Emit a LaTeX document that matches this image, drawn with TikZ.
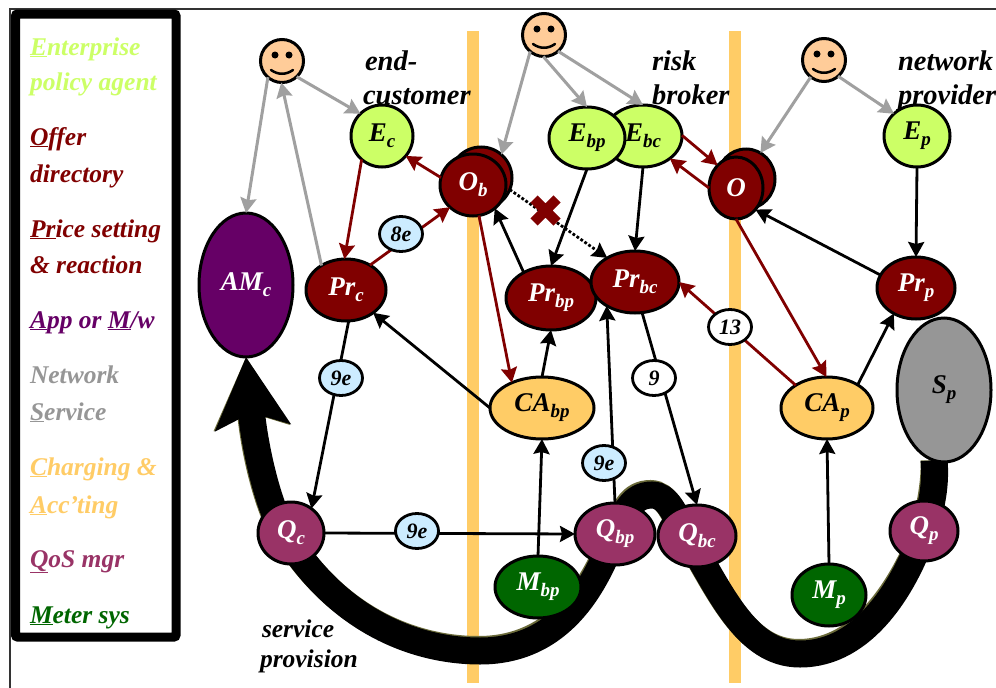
\documentclass[tikz,border=0pt]{standalone}
\usepackage{fontspec}
\setmainfont{Liberation Serif}
\usetikzlibrary{arrows.meta,shapes.geometric}
\definecolor{ecol}{HTML}{CCFF66}
\definecolor{red8}{HTML}{800000}
\definecolor{purp}{HTML}{660066}
\definecolor{gray9}{HTML}{969696}
\definecolor{lgray}{HTML}{A0A0A0}
\definecolor{oran}{HTML}{FFCC66}
\definecolor{qcol}{HTML}{993366}
\definecolor{mcol}{HTML}{006600}
\definecolor{lblue}{HTML}{CCECFF}
\definecolor{skin}{HTML}{FFCC99}
\definecolor{olive}{HTML}{6B6B3A}
\pgfdeclarelayer{bg}
\pgfsetlayers{bg,main}
\newcommand\ssub[1]{\raisebox{-6pt}{\fontsize{19}{19}\selectfont #1}}
\newcommand\fatroute{(Sp.262) .. controls (936,485) and (932,505) .. (Qp.center)
  .. controls (905,585) and (865,654) .. (800,654)
  .. controls (745,654) and (720,590) .. (685,533)
  .. controls (675,515) and (668,495) .. (652,495)
  .. controls (632,495) and (625,512) .. (Qbp.center)
  .. controls (600,570) and (570,651) .. (480,651)
  .. controls (420,651) and (340,625) .. (284,533)
  .. controls (268,505) and (255,450) .. (AMc.south)}
\newcommand\smileyface[1]{%
  \fill ([shift={(-7,-6)}]#1.center) circle (3.5pt);
  \fill ([shift={(7,-6)}]#1.center) circle (3.5pt);
  \draw[line width=2.5pt,line cap=round] ([shift={(-11,9)}]#1.center) .. controls ([shift={(-4,14)}]#1.center) and ([shift={(4,14)}]#1.center) .. ([shift={(11,9)}]#1.center);
}
\tikzset{
  txt/.style={font=\fontsize{25.5}{25.5}\selectfont\bfseries\itshape,anchor=base west,inner sep=0pt,outer sep=0pt},
  captxt/.style={txt,font=\fontsize{28.5}{28.5}\selectfont\bfseries\itshape},
  ell/.style 2 args={ellipse,draw=black,line width=3pt,inner sep=0pt,outer sep=0pt,minimum width=#1pt,minimum height=#2pt,font=\fontsize{27}{27}\selectfont\bfseries\itshape},
  lbl/.style={ellipse,draw=black,line width=2.8pt,inner sep=0pt,outer sep=0pt,minimum width=43pt,minimum height=35pt,font=\fontsize{22}{22}\selectfont\bfseries\itshape},
  face/.style={circle,draw=black,fill=skin,line width=3pt,inner sep=0pt,outer sep=0pt,minimum size=43pt},
  conn/.style={line width=2.8pt,-{Stealth[length=15pt,width=16pt,inset=2pt]}},
  gconn/.style={conn,draw=lgray,line width=3pt},
  rconn/.style={conn,draw=red8},
  fat/.style={line width=27pt,-{Stealth[length=70pt,width=74pt,inset=14pt]}}
}
\begin{document}
\begin{tikzpicture}[x=1pt,y=-1pt]
\useasboundingbox (0,0) rectangle (996,688);
\begin{pgfonlayer}{bg}
\fill[white] (0,0) rectangle (996,688);
\draw[line width=1.5pt,black!80] (10,688) -- (10,9) -- (996,9);
\fill[oran] (467,31) rectangle (479,683);
\fill[oran] (729,31) rectangle (741,683);
\end{pgfonlayer}
\draw[line width=9pt,rounded corners=2pt,fill=white] (15.5,14) rectangle (176,637);
% legend
\node[txt,ecol] (l1) at (30,55) {\underline{E}nterprise};
\node[txt,ecol] (l2) at (30,90) {policy agent};
\node[txt,red8] (l3) at (30,145) {\underline{O}ffer};
\node[txt,red8] (l4) at (30,182) {directory};
\node[txt,red8] (l5) at (30,237) {\underline{Pr}ice setting};
\node[txt,red8] (l6) at (30,273) {\& reaction};
\node[txt,purp] (l7) at (30,328) {\underline{A}pp or \underline{M}/w};
\node[txt,gray9] (l8) at (30,383) {Network};
\node[txt,gray9] (l9) at (30,420) {\underline{S}ervice};
\node[txt,oran] (l10) at (30,475) {\underline{C}harging \&};
\node[txt,oran] (l11) at (30,513) {\underline{A}cc’ting};
\node[txt,qcol] (l12) at (30,567) {\underline{Q}oS mgr};
\node[txt,mcol] (l13) at (30,623) {\underline{M}eter sys};
% role captions
\node[captxt] (t1) at (365,70) {end-};
\node[captxt] (t2) at (363,104) {customer};
\node[captxt] (t3) at (652,70) {risk};
\node[captxt] (t4) at (652,104) {broker};
\node[captxt] (t5) at (898,70) {network};
\node[captxt] (t6) at (898,104) {provider};
\node[txt] (t7) at (262,637) {service};
\node[txt] (t8) at (260,667) {provision};
% faces
\node[face] (f1) at (282,61) {};
\node[face] (f2) at (544,35) {};
\node[face] (f3) at (824,60) {};
\smileyface{f1}\smileyface{f2}\smileyface{f3}
% nodes
\node[ell={62}{62},fill=ecol] (Ec) at (382,136) {E\ssub{c}};
\node[ell={78}{62},fill=ecol] (Ebc) at (643,136) {E\ssub{bc}};
\node[ell={76}{62},fill=ecol] (Ebp) at (587,138) {E\ssub{bp}};
\node[ell={66}{62},fill=ecol] (Ep) at (917,136) {E\ssub{p}};
\node[ell={62}{62},fill=red8] (Obb) at (481,178) {};
\node[ell={66}{62},fill=red8,text=white] (Ob) at (473,185) {O\ssub{b}};
\node[ell={58}{60},fill=red8] (Ob2) at (746,179) {};
\node[ell={54}{62},fill=red8,text=white] (O) at (736,188) {O};
\node[ell={94}{144},fill=purp,text=white] (AMc) at (246,285) {AM\ssub{c}};
\node[ell={80}{62},fill=red8,text=white] (Prc) at (346,290) {Pr\ssub{c}};
\node[ell={90}{64},fill=red8,text=white] (Prbp) at (551,298) {Pr\ssub{bp}};
\node[ell={88}{62},fill=red8,text=white] (Prbc) at (635,282) {Pr\ssub{bc}};
\node[ell={78}{62},fill=red8,text=white] (Prp) at (916,288) {Pr\ssub{p}};
\node[ell={104}{62},fill=oran] (CAbp) at (542,408) {CA\ssub{bp}};
\node[ell={92}{62},fill=oran] (CAp) at (827,408) {CA\ssub{p}};
\node[ell={94}{144},fill=gray9] (Sp) at (944,390) {S\ssub{p}};
\node[ell={66}{62},fill=qcol,text=white] (Qc) at (291,533) {Q\ssub{c}};
\node[ell={80}{62},fill=qcol,text=white] (Qbp) at (615,534) {Q\ssub{bp}};
\node[ell={78}{62},fill=qcol,text=white] (Qbc) at (697,536) {Q\ssub{bc}};
\node[ell={68}{60},fill=qcol,text=white] (Qp) at (924,531) {Q\ssub{p}};
\node[ell={86}{62},fill=mcol,text=white] (Mbp) at (538,587) {M\ssub{bp}};
\node[ell={74}{62},fill=mcol,text=white] (Mp) at (829,595) {M\ssub{p}};
% service provision
\begin{pgfonlayer}{bg}
\draw[fat,olive,shift={(-1.5,-1.5)}] \fatroute;
\draw[fat,black] \fatroute;
\end{pgfonlayer}
% gray connectors
\draw[gconn] (f1.229) -- (AMc.north);
\draw[gconn] (Prc.135) -- (f1.268);
\draw[gconn] (f1.313) -- (Ec.134);
\draw[gconn] (f2.230) -- (Obb.49);
\draw[gconn] (f2.268) -- (Ebp.90);
\draw[gconn] (f2.311) -- (Ebc.90);
\draw[gconn] (f3.232) -- (Ob2.61);
\draw[gconn] (f3.311) -- (Ep.136);
% red connectors
\draw[rconn] (Ec.229) -- (Prc.93);
\draw[rconn] (Prc.46) -- (Ob.224);
\draw[rconn] (Ob.167) -- (Ec.320);
\draw[rconn] (Ob.281) -- (CAbp.140);
\draw[rconn] (Ebc.1) -- (O.129);
\draw[rconn] (O.180) -- (Ebc.320);
\draw[rconn] (O.270) -- (CAp.91);
\draw[rconn] (CAp.144) -- (Prbc.0);
% black connectors
\draw[conn] (Ebp.270) -- (Prbp.90);
\draw[conn] (Ebc.270) -- (Prbc.90);
\draw[conn] (Ep.270) -- (Prp.90);
\draw[conn] (Prbp.137) -- (Ob.313);
\draw[conn] (CAbp.90) -- (Prbp.270);
\draw[conn] (CAbp.180) -- (Prc.320);
\draw[conn] (CAp.37) -- (Prp.229);
\draw[conn] (Prp.160) -- (O.312);
\draw[conn] (Prc.275) -- (Qc.50);
\draw[conn] (Qc.0) -- (Qbp.180);
\draw[conn] (Mbp.90) -- (CAbp.270);
\draw[conn] (Qbp.90) -- (Prbc.220);
\draw[conn] (Prbc.283) -- (Qbc.90);
\draw[conn] (Mp.90) -- (CAp.270);
\draw[conn,dotted] (Obb.338) -- (Prbc.139);
% blocked mark
\draw[red8,line width=10pt] (534,199) -- (557,222) (557,199) -- (534,222);
% labels
\node[lbl,fill=lblue] (n8e) at (401,234) {8e};
\node[lbl,fill=lblue] (n9a) at (341,378) {9e};
\node[lbl,fill=lblue] (n9b) at (417,531) {9e};
\node[lbl,fill=lblue] (n9c) at (604,463) {9e};
\node[lbl,fill=white] (n9) at (654,378) {9};
\node[lbl,fill=white] (n13) at (730,327) {13};
\end{tikzpicture}
\end{document}
